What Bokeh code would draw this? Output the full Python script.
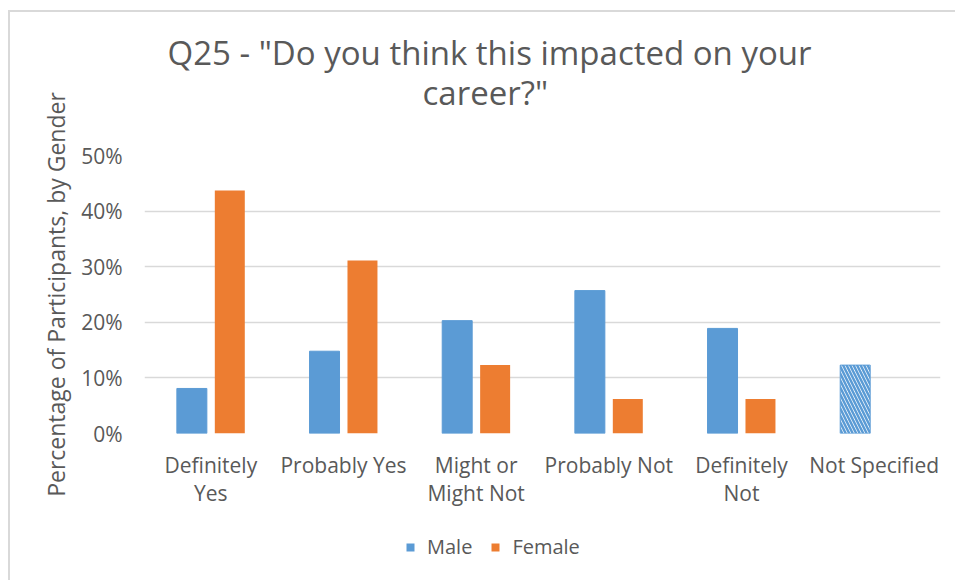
from bokeh.plotting import figure
from bokeh.layouts import column
from bokeh.models import (ColumnDataSource, FactorRange, Range1d, FixedTicker,
                          PrintfTickFormatter, Legend, LegendItem, Title)
from bokeh.transform import dodge
from bokeh.embed import file_html
from bokeh.resources import INLINE

# ---- data ----
categories = ["Definitely\nYes", "Probably Yes", "Might or\nMight Not",
              "Probably Not", "Definitely\nNot", "Not Specified"]
male = [8.1, 14.8, 20.3, 25.7, 18.9, 12.3]
female = [43.7, 31.1, 12.3, 6.2, 6.2, 0.0]
y_ticks = [0, 10, 20, 30, 40, 50]
series_names = ["Male", "Female"]

BLUE = "#5B9BD5"
ORANGE = "#ED7D31"
GRID = "#D9D9D9"
TEXT = "#595959"
FONT = "Open Sans"

male_fill = [BLUE] * 5 + ["white"]
male_hatch = [" "] * 5 + ["left_diagonal_line"]

src = ColumnDataSource(dict(cat=categories, male=male, female=female,
                            mfill=male_fill, mhatch=male_hatch))

p = figure(x_range=FactorRange(factors=categories), y_range=Range1d(0, 50),
           frame_width=796, frame_height=278,
           output_backend="svg", toolbar_location=None,
           min_border_left=144, min_border_right=14, min_border_top=155,
           min_border_bottom=100)
p.outline_line_color = None
p.background_fill_color = "white"
p.border_fill_color = None

rm = p.vbar(x=dodge("cat", -0.143, range=p.x_range), top="male", width=0.226,
            source=src, fill_color="mfill", line_color=BLUE, line_width=1,
            hatch_pattern="mhatch", hatch_color=BLUE, hatch_weight=2.5,
            hatch_scale=7)
rf = p.vbar(x=dodge("cat", 0.143, range=p.x_range), top="female", width=0.226,
            source=src, fill_color=ORANGE, line_color=None)

# titles (added bottom line first so it sits closest to the frame)
t2 = Title(text='career?"', align="left", text_font=FONT,
           text_font_size="33px", text_font_style="normal",
           text_color=TEXT, standoff=82, offset=278)
t1 = Title(text='Q25 - "Do you think this impacted on your', align="left",
           text_font=FONT, text_font_size="33px", text_font_style="normal",
           text_color=TEXT, standoff=-96, offset=23)
p.add_layout(t2, "above")
p.add_layout(t1, "above")

# axes
p.yaxis.ticker = FixedTicker(ticks=y_ticks)
p.yaxis.formatter = PrintfTickFormatter(format="%d%%")
p.yaxis.axis_label = "Percentage of Participants, by Gender"
p.yaxis.axis_label_text_font = FONT
p.yaxis.axis_label_text_font_size = "23px"
p.yaxis.axis_label_text_font_style = "normal"
p.yaxis.axis_label_text_color = TEXT
p.yaxis.axis_label_standoff = 6
p.yaxis.major_label_standoff = 16
for ax in (p.xaxis, p.yaxis):
    ax.axis_line_color = None
    ax.major_tick_line_color = None
    ax.minor_tick_line_color = None
    ax.major_label_text_font = FONT
    ax.major_label_text_font_size = "21px"
    ax.major_label_text_color = TEXT
p.xaxis.major_label_standoff = 11
p.xaxis.major_label_text_line_height = 1.0
p.xaxis.major_label_orientation = "horizontal"

p.xgrid.grid_line_color = None
p.ygrid.grid_line_color = GRID
p.ygrid.grid_line_width = 1.5

# legend strip below the chart (its bars lie outside its visible y range)
q = figure(width=955, height=47, x_range=p.x_range, y_range=Range1d(100, 147),
           x_axis_type=None, y_axis_type=None, output_backend="svg",
           toolbar_location=None, min_border=0)
q.outline_line_color = None
q.background_fill_color = None
q.border_fill_color = None
q.grid.grid_line_color = None
lm = q.vbar(x="cat", top="male", width=0.2, source=src,
            fill_color=BLUE, line_color=None)
lf = q.vbar(x="cat", top="female", width=0.2, source=src,
            fill_color=ORANGE, line_color=None)
legend = Legend(items=[LegendItem(label=series_names[0], renderers=[lm]),
                       LegendItem(label=series_names[1], renderers=[lf])],
                orientation="horizontal", location=(261, 20),
                label_text_font=FONT, label_text_font_size="20px",
                label_text_color=TEXT, glyph_width=10, glyph_height=10,
                spacing=18, label_standoff=12, border_line_color=None,
                background_fill_alpha=0, margin=0, padding=4)
q.add_layout(legend, "center")

layout = column(p, q, spacing=0)
layout.styles = {
    "background": ("linear-gradient(#D9D9D9, #D9D9D9) 8px 10px / 2px 100% no-repeat, "
                   "linear-gradient(#D9D9D9, #D9D9D9) 8px 10px / 100% 2px no-repeat, "
                   "white"),
}

open("out.html", "w").write(file_html(layout, INLINE))
